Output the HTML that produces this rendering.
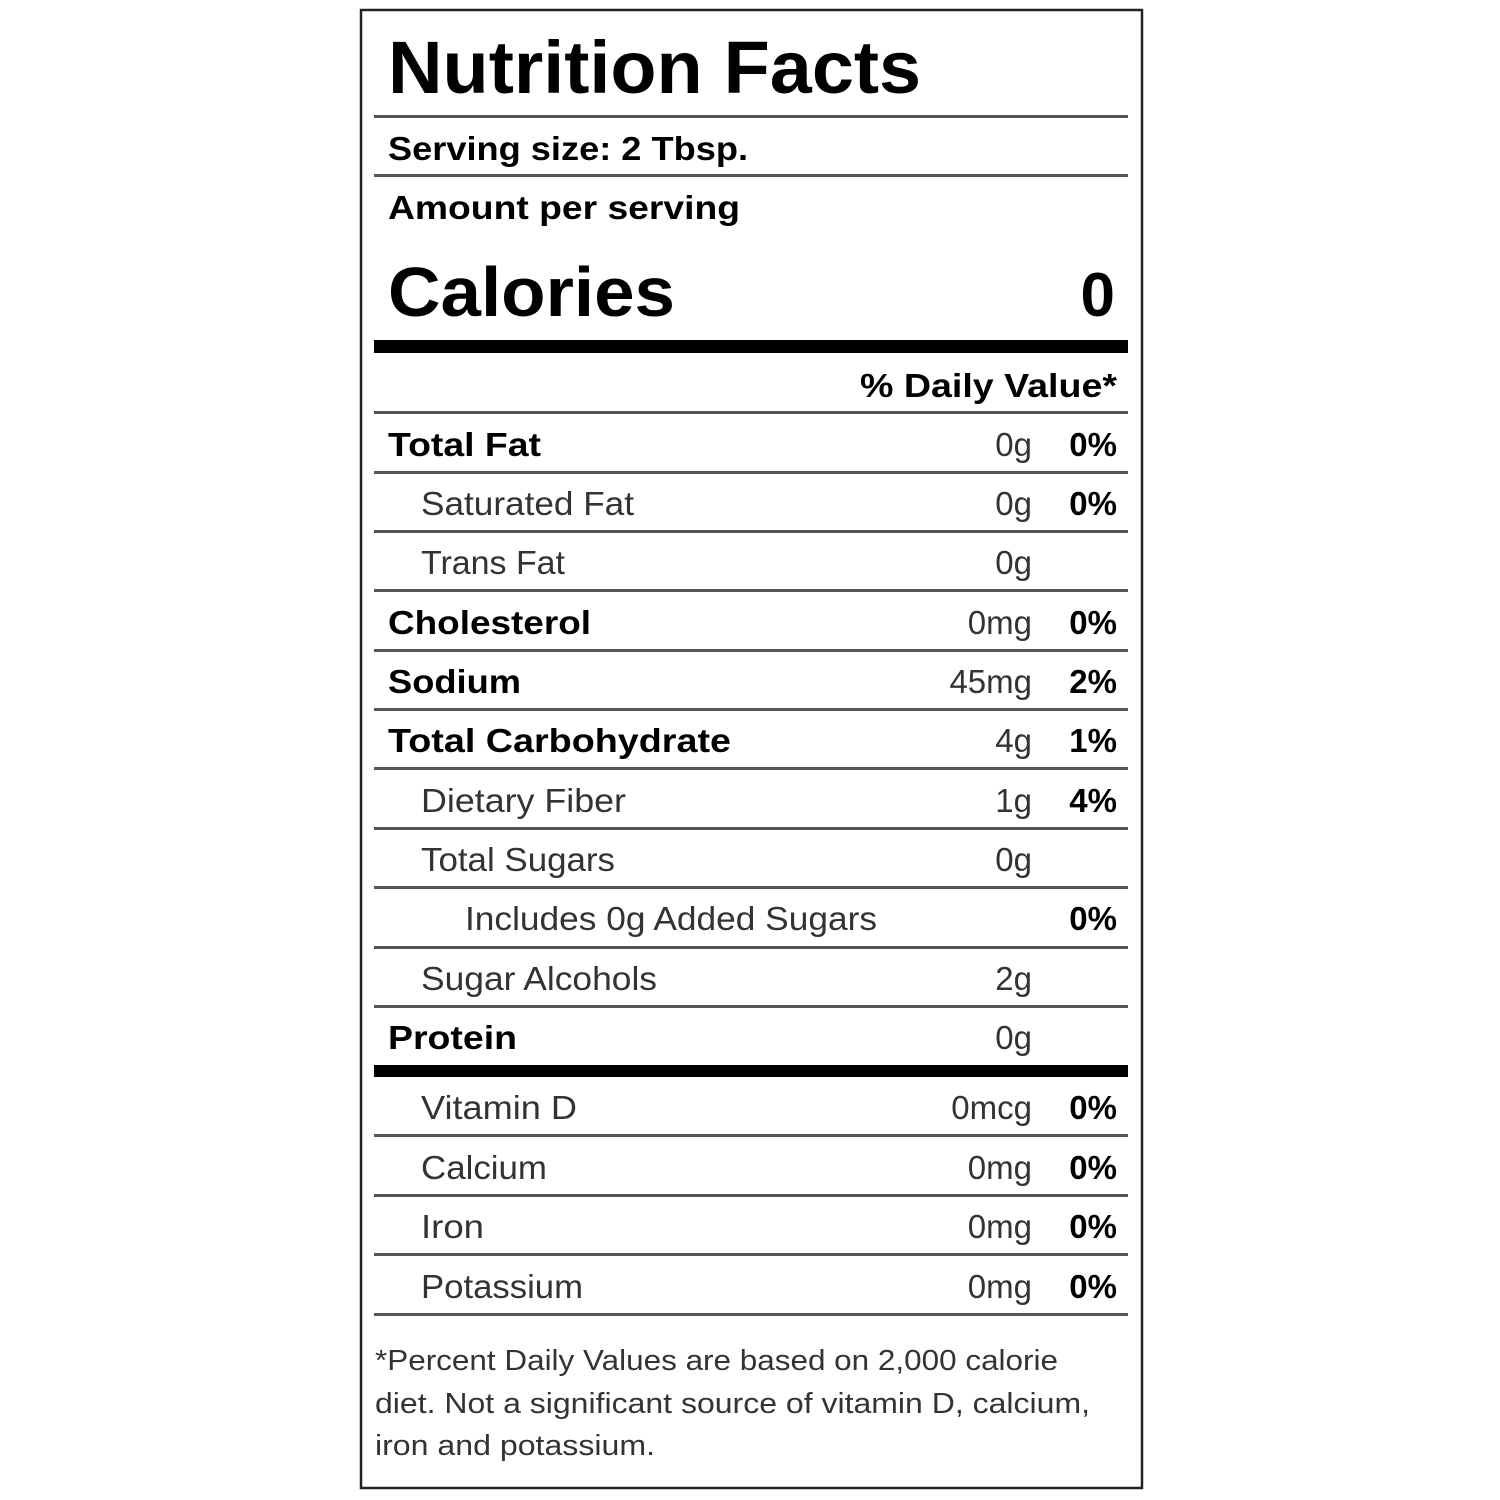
<!DOCTYPE html>
<html><head><meta charset="utf-8"><style>
html,body{margin:0;padding:0;background:#fff;}
svg{display:block;}
text{font-family:"Liberation Sans",sans-serif;}
.b{font-weight:bold;fill:#000;}
.l{fill:#333;}
</style></head><body>
<svg width="1500" height="1500" viewBox="0 0 1500 1500" xmlns="http://www.w3.org/2000/svg">
<rect x="0" y="0" width="1500" height="1500" fill="#fff"/>
<rect x="361" y="10" width="781" height="1478" fill="none" stroke="#222" stroke-width="2.5"/>
<g fill="#555">
<rect x="374" y="115" width="754" height="3"/>
<rect x="374" y="174" width="754" height="3"/>
<rect x="374" y="340" width="754" height="13" fill="#000"/>
<rect x="374" y="411" width="754" height="3"/>
<rect x="374" y="471" width="754" height="3"/>
<rect x="374" y="530" width="754" height="3"/>
<rect x="374" y="589" width="754" height="3"/>
<rect x="374" y="649" width="754" height="3"/>
<rect x="374" y="708" width="754" height="3"/>
<rect x="374" y="767" width="754" height="3"/>
<rect x="374" y="827" width="754" height="3"/>
<rect x="374" y="886" width="754" height="3"/>
<rect x="374" y="946" width="754" height="3"/>
<rect x="374" y="1005" width="754" height="3"/>
<rect x="374" y="1065" width="754" height="12" fill="#000"/>
<rect x="374" y="1134" width="754" height="3"/>
<rect x="374" y="1194" width="754" height="3"/>
<rect x="374" y="1253" width="754" height="3"/>
<rect x="374" y="1313" width="754" height="3"/>
</g>
<text class="b" x="388" y="93" font-size="74" textLength="533" lengthAdjust="spacingAndGlyphs">Nutrition Facts</text>
<text class="b" x="388" y="160" font-size="33" textLength="360" lengthAdjust="spacingAndGlyphs">Serving size: 2 Tbsp.</text>
<text class="b" x="388" y="219" font-size="33" textLength="352" lengthAdjust="spacingAndGlyphs">Amount per serving</text>
<text class="b" x="388" y="316" font-size="70" textLength="287" lengthAdjust="spacingAndGlyphs">Calories</text>
<text class="b" x="1115" y="316" font-size="62" text-anchor="end">0</text>
<text class="b" x="860" y="397" font-size="33" textLength="257" lengthAdjust="spacingAndGlyphs">% Daily Value*</text>

<g font-size="33">
<text class="b" x="388" y="456" textLength="153" lengthAdjust="spacingAndGlyphs">Total Fat</text>
<text class="l" x="1032" y="456" text-anchor="end">0g</text>
<text class="b" x="1117" y="456" text-anchor="end">0%</text>

<text class="l" x="421" y="515" textLength="213" lengthAdjust="spacingAndGlyphs">Saturated Fat</text>
<text class="l" x="1032" y="515" text-anchor="end">0g</text>
<text class="b" x="1117" y="515" text-anchor="end">0%</text>

<text class="l" x="421" y="574" textLength="144" lengthAdjust="spacingAndGlyphs">Trans Fat</text>
<text class="l" x="1032" y="574" text-anchor="end">0g</text>

<text class="b" x="388" y="634" textLength="203" lengthAdjust="spacingAndGlyphs">Cholesterol</text>
<text class="l" x="1032" y="634" text-anchor="end">0mg</text>
<text class="b" x="1117" y="634" text-anchor="end">0%</text>

<text class="b" x="388" y="693" textLength="133" lengthAdjust="spacingAndGlyphs">Sodium</text>
<text class="l" x="1032" y="693" text-anchor="end">45mg</text>
<text class="b" x="1117" y="693" text-anchor="end">2%</text>

<text class="b" x="388" y="752" textLength="343" lengthAdjust="spacingAndGlyphs">Total Carbohydrate</text>
<text class="l" x="1032" y="752" text-anchor="end">4g</text>
<text class="b" x="1117" y="752" text-anchor="end">1%</text>

<text class="l" x="421" y="812" textLength="205" lengthAdjust="spacingAndGlyphs">Dietary Fiber</text>
<text class="l" x="1032" y="812" text-anchor="end">1g</text>
<text class="b" x="1117" y="812" text-anchor="end">4%</text>

<text class="l" x="421" y="871" textLength="194" lengthAdjust="spacingAndGlyphs">Total Sugars</text>
<text class="l" x="1032" y="871" text-anchor="end">0g</text>

<text class="l" x="465" y="930" textLength="412" lengthAdjust="spacingAndGlyphs">Includes 0g Added Sugars</text>
<text class="b" x="1117" y="930" text-anchor="end">0%</text>

<text class="l" x="421" y="990" textLength="236" lengthAdjust="spacingAndGlyphs">Sugar Alcohols</text>
<text class="l" x="1032" y="990" text-anchor="end">2g</text>

<text class="b" x="388" y="1049" textLength="129" lengthAdjust="spacingAndGlyphs">Protein</text>
<text class="l" x="1032" y="1049" text-anchor="end">0g</text>

<text class="l" x="421" y="1119" textLength="156" lengthAdjust="spacingAndGlyphs">Vitamin D</text>
<text class="l" x="1032" y="1119" text-anchor="end">0mcg</text>
<text class="b" x="1117" y="1119" text-anchor="end">0%</text>

<text class="l" x="421" y="1179" textLength="126" lengthAdjust="spacingAndGlyphs">Calcium</text>
<text class="l" x="1032" y="1179" text-anchor="end">0mg</text>
<text class="b" x="1117" y="1179" text-anchor="end">0%</text>

<text class="l" x="421" y="1238" textLength="63" lengthAdjust="spacingAndGlyphs">Iron</text>
<text class="l" x="1032" y="1238" text-anchor="end">0mg</text>
<text class="b" x="1117" y="1238" text-anchor="end">0%</text>

<text class="l" x="421" y="1298" textLength="162" lengthAdjust="spacingAndGlyphs">Potassium</text>
<text class="l" x="1032" y="1298" text-anchor="end">0mg</text>
<text class="b" x="1117" y="1298" text-anchor="end">0%</text>
</g>

<g font-size="29" class="l">
<text class="l" x="375" y="1370" textLength="683" lengthAdjust="spacingAndGlyphs">*Percent Daily Values are based on 2,000 calorie</text>
<text class="l" x="375" y="1413" textLength="715" lengthAdjust="spacingAndGlyphs">diet. Not a significant source of vitamin D, calcium,</text>
<text class="l" x="375" y="1455" textLength="280" lengthAdjust="spacingAndGlyphs">iron and potassium.</text>
</g>
</svg>
</body></html>
